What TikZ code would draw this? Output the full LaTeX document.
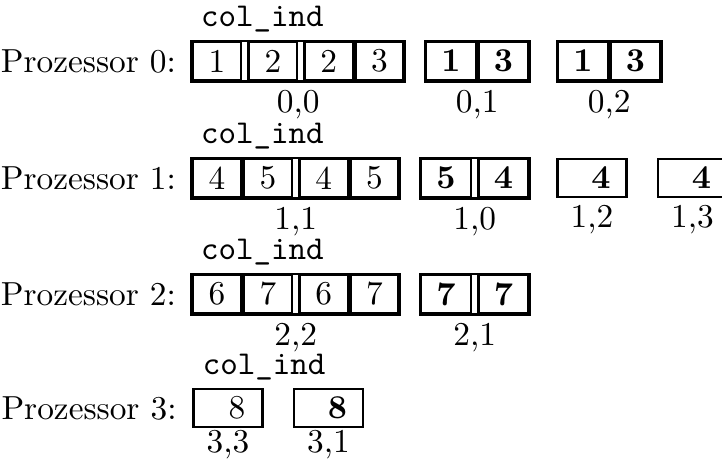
\documentclass[tikz,border=0pt]{standalone}
\usetikzlibrary{positioning,fit}
\tikzset{
  cell/.style={rectangle, draw=black, line width=0.75pt, minimum width=14.5pt, minimum height=11.4pt, inner sep=0pt},
  wcell/.style={cell, minimum width=15pt, font=\bfseries},
  single/.style={cell, minimum width=20.7pt},
  frame/.style={rectangle, draw=black, line width=0.75pt, inner sep=0pt},
  proc/.style={inner sep=0pt},
  colname/.style={font=\ttfamily, inner sep=0pt},
  idx/.style={inner sep=0.5pt}
}
\begin{document}
\begin{tikzpicture}[x=0.3pt, y=-0.3pt]
	\useasboundingbox (0,0) rectangle (722,459);
	\node[cell] (p0a) at (217,61) {1};
	\node[cell, right=1.5pt of p0a] (p0b) {2};
	\node[cell, right=1.5pt of p0b] (p0c) {2};
	\node[cell, right=0pt of p0c] (p0d) {3};
	\node[frame, fit=(p0a)(p0d)] (f00) {};
	\node[proc, left=4.5pt of p0a] (pr0) {Prozessor 0:};
	\node[colname, anchor=base west] (ci0) at ([xshift=3pt, yshift=4pt]f00.north west) {col\_ind};
	\node[idx, below=1.5pt of f00] (l00) {0,0};
	\node[wcell] (q01a) at (451,61) {1};
	\node[wcell, right=0pt of q01a] (q01b) {3};
	\node[frame, fit=(q01a)(q01b)] (f01) {};
	\node[idx, below=1.5pt of f01] (l01) {0,1};
	\node[wcell] (q02a) at (583,61) {1};
	\node[wcell, right=0pt of q02a] (q02b) {3};
	\node[frame, fit=(q02a)(q02b)] (f02) {};
	\node[idx, below=1.5pt of f02] (l02) {0,2};

	\node[cell] (p1a) at (217,178) {4};
	\node[cell, right=0pt of p1a] (p1b) {5};
	\node[cell, right=1.5pt of p1b] (p1c) {4};
	\node[cell, right=0pt of p1c] (p1d) {5};
	\node[frame, fit=(p1a)(p1d)] (f11) {};
	\node[proc, left=4.5pt of p1a] (pr1) {Prozessor 1:};
	\node[colname, anchor=base west] (ci1) at ([xshift=3pt, yshift=4pt]f11.north west) {col\_ind};
	\node[idx, below=1.5pt of f11] (l11) {1,1};
	\node[wcell] (q10a) at (446,178) {5};
	\node[wcell, right=1.5pt of q10a] (q10b) {4};
	\node[frame, fit=(q10a)(q10b)] (f10) {};
	\node[idx, below=1.5pt of f10] (l10) {1,0};
	\node[single] (f12) at (592,178) {\hspace*{5.4pt}\textbf{4}};
	\node[idx, below=1.5pt of f12] (l12) {1,2};
	\node[single] (f13) at (692.5,178) {\hspace*{5.4pt}\textbf{4}};
	\node[idx, below=1.5pt of f13] (l13) {1,3};

	\node[cell] (p2a) at (217,294) {6};
	\node[cell, right=0pt of p2a] (p2b) {7};
	\node[cell, right=1.5pt of p2b] (p2c) {6};
	\node[cell, right=0pt of p2c] (p2d) {7};
	\node[frame, fit=(p2a)(p2d)] (f22) {};
	\node[proc, left=4.5pt of p2a] (pr2) {Prozessor 2:};
	\node[colname, anchor=base west] (ci2) at ([xshift=3pt, yshift=4pt]f22.north west) {col\_ind};
	\node[idx, below=1.5pt of f22] (l22) {2,2};
	\node[wcell] (q21a) at (446,294) {7};
	\node[wcell, right=1.5pt of q21a] (q21b) {7};
	\node[frame, fit=(q21a)(q21b)] (f21) {};
	\node[idx, below=1.5pt of f21] (l21) {2,1};

	\node[single] (f33) at (228,408) {\hspace*{5.4pt}8};
	\node[proc, left=4.5pt of f33] (pr3) {Prozessor 3:};
	\node[colname, anchor=base west] (ci3) at ([xshift=3pt, yshift=4pt]f33.north west) {col\_ind};
	\node[idx, below=0pt of f33] (l33) {3,3};
	\node[single] (f31) at (328.5,408) {\hspace*{5.4pt}\textbf{8}};
	\node[idx, below=0pt of f31] (l31) {3,1};
\end{tikzpicture}
\end{document}
